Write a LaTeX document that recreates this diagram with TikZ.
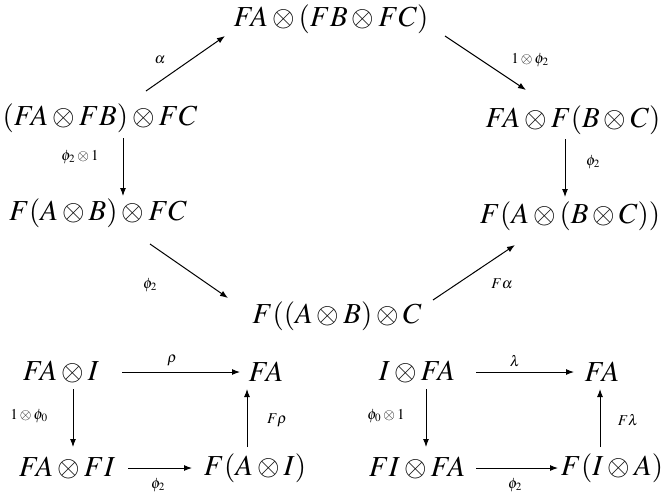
\documentclass[tikz,border=0pt]{standalone}
\usepackage{mathptmx}
\usetikzlibrary{arrows.meta}
\tikzset{
  obj/.style={inner sep=1pt, font=\fontsize{29}{34}\selectfont},
  lab/.style={font=\fontsize{15}{18}\selectfont, inner sep=1pt},
  arr/.style={draw, line width=1pt, -{Latex[length=8pt,width=6pt]}},
}
\begin{document}
\begin{tikzpicture}[x=1pt,y=-1pt]
\useasboundingbox (0,0) rectangle (663,496);
% pentagon
\node[obj] (top) at (331,19) {$FA\otimes(FB\otimes FC)$};
\node[obj] (l1) at (100,118) {$(FA\otimes FB)\otimes FC$};
\node[obj] (r1) at (573,120) {$FA\otimes F(B\otimes C)$};
\node[obj] (l2) at (98,213) {$F(A\otimes B)\otimes FC$};
\node[obj] (r2) at (570,216) {$F(A\otimes(B\otimes C))$};
\node[obj] (bot) at (337,316) {$F((A\otimes B)\otimes C$};
% connectors
\coordinate (a1) at (146,91); \coordinate (a2) at (225,36);
\draw[arr] (a1) -- (a2);
\node[lab] (la) at (160,60) {$\alpha$};
\coordinate (b1) at (445,36); \coordinate (b2) at (526,90);
\draw[arr] (b1) -- (b2);
\node[lab] (lb) at (530,60) {$1\otimes\phi_2$};
\coordinate (c1) at (123,138); \coordinate (c2) at (123,196);
\draw[arr] (c1) -- (c2);
\node[lab] (lc) at (80,157) {$\phi_2\otimes1$};
\coordinate (d1) at (565,139); \coordinate (d2) at (565,197);
\draw[arr] (d1) -- (d2);
\node[lab] (ld) at (593,162) {$\phi_2$};
\coordinate (e1) at (150,244); \coordinate (e2) at (228,298);
\draw[arr] (e1) -- (e2);
\node[lab] (le) at (150,285) {$\phi_2$};
\coordinate (f1) at (433,300); \coordinate (f2) at (515,245);
\draw[arr] (f1) -- (f2);
\node[lab] (lf) at (502,284) {$F\alpha$};
% left square
\node[obj] (p1) at (61,372) {$FA\otimes I$};
\node[obj] (p2) at (266,372) {$FA$};
\node[obj] (p3) at (67,468) {$FA\otimes FI$};
\node[obj] (p4) at (255,468) {$F(A\otimes I)$};
\coordinate (r1a) at (122,372); \coordinate (r1b) at (240,372);
\draw[arr] (r1a) -- (r1b);
\node[lab] (lr) at (172,361) {$\rho$};
\coordinate (g1) at (73,389); \coordinate (g2) at (73,447);
\draw[arr] (g1) -- (g2);
\node[lab] (lg) at (29,416) {$1\otimes\phi_0$};
\coordinate (h1) at (247,447); \coordinate (h2) at (247,389);
\draw[arr] (h1) -- (h2);
\node[lab] (lh) at (277,420) {$F\rho$};
\coordinate (s1a) at (128,468); \coordinate (s1b) at (192,468);
\draw[arr] (s1a) -- (s1b);
\node[lab] (ls) at (158,485) {$\phi_2$};
% right square
\node[obj] (q1) at (417,372) {$I\otimes FA$};
\node[obj] (q2) at (602,372) {$FA$};
\node[obj] (q3) at (417,468) {$FI\otimes FA$};
\node[obj] (q4) at (612,468) {$F(I\otimes A)$};
\coordinate (t1a) at (476,372); \coordinate (t1b) at (574,372);
\draw[arr] (t1a) -- (t1b);
\node[lab] (lt) at (515,361) {$\lambda$};
\coordinate (k1) at (426,389); \coordinate (k2) at (426,447);
\draw[arr] (k1) -- (k2);
\node[lab] (lk) at (386,416) {$\phi_0\otimes1$};
\coordinate (m1) at (600,447); \coordinate (m2) at (600,389);
\draw[arr] (m1) -- (m2);
\node[lab] (lm) at (628,420) {$F\lambda$};
\coordinate (u1a) at (476,468); \coordinate (u1b) at (558,468);
\draw[arr] (u1a) -- (u1b);
\node[lab] (lu) at (515,485) {$\phi_2$};
\end{tikzpicture}
\end{document}
